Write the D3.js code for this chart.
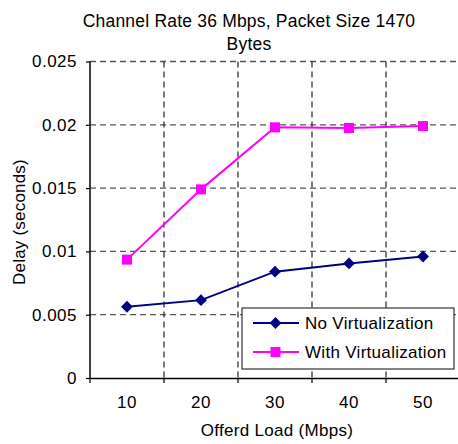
<!doctype html>
<html>
<head>
<script src="https://d3js.org/d3.v7.min.js"></script>
<style>
  body { margin: 0; background: #fff; }
  text { font-family: "Liberation Sans", Arial, sans-serif; fill: #000; }
</style>
</head>
<body>
<div id="chart"></div>
<script>
// data
var loads = ["10", "20", "30", "40", "50"];
var noVirt = [0.00563, 0.00615, 0.0084, 0.00905, 0.0096];
var withVirt = [0.00935, 0.0149, 0.0198, 0.01975, 0.0199];
var yTicks = [0, 0.005, 0.01, 0.015, 0.02, 0.025];
var yTickLabels = ["0", "0.005", "0.01", "0.015", "0.02", "0.025"];

var W = 458, H = 444;
var margin = {top: 61.5, right: -2, bottom: 66, left: 90};
var width = W - margin.left - margin.right,
    height = H - margin.top - margin.bottom;

var svg = d3.select("#chart").append("svg")
    .attr("width", W).attr("height", H);

var g = svg.append("g")
    .attr("transform", "translate(" + margin.left + "," + margin.top + ")");

var x = d3.scaleBand().domain(loads).range([0, width]);
var y = d3.scaleLinear().domain([0, 0.025]).range([height, 0]);

// horizontal gridlines
g.selectAll(".hgrid").data(yTicks.slice(1)).enter().append("line")
    .attr("x1", 0).attr("x2", width)
    .attr("y1", function(d) { return y(d); }).attr("y2", function(d) { return y(d); })
    .attr("stroke", "#555").attr("stroke-width", 1.3)
    .attr("stroke-dasharray", "6,4");

// vertical gridlines at category boundaries
g.selectAll(".vgrid").data(loads.slice(1)).enter().append("line")
    .attr("x1", function(d) { return x(d); }).attr("x2", function(d) { return x(d); })
    .attr("y1", 0).attr("y2", height)
    .attr("stroke", "#222").attr("stroke-width", 1.2)
    .attr("stroke-dasharray", "6,4");

// y axis
var yAxis = g.append("g")
    .call(d3.axisLeft(y).tickValues(yTicks)
        .tickFormat(function(d, i) { return yTickLabels[i]; })
        .tickSize(4).tickPadding(9));
yAxis.select(".domain").attr("stroke", "#000").attr("stroke-width", 1.5).attr("d", "M0," + height + "V0");
yAxis.selectAll(".tick line").attr("stroke", "#000").attr("stroke-width", 1.2);
yAxis.selectAll("text").style("font-size", "17px").style("letter-spacing", "0.5px").attr("font-family", null);

// x axis
var xAxis = g.append("g").attr("transform", "translate(0," + height + ")")
    .call(d3.axisBottom(x).tickSize(0).tickPadding(18));
xAxis.select(".domain").attr("stroke", "#000").attr("stroke-width", 1.5);
xAxis.selectAll("text").style("font-size", "17px").style("letter-spacing", "0.5px").attr("font-family", null);
xAxis.selectAll(".bound").data(loads.concat(["end"])).enter().append("line")
    .attr("x1", function(d, i) { return i * x.step(); })
    .attr("x2", function(d, i) { return i * x.step(); })
    .attr("y1", 0).attr("y2", 5)
    .attr("stroke", "#000").attr("stroke-width", 1.2);

// series lines
var line = d3.line()
    .x(function(d, i) { return x(loads[i]) + x.bandwidth() / 2; })
    .y(function(d) { return y(d); });

g.append("path").datum(noVirt).attr("d", line)
    .attr("fill", "none").attr("stroke", "#000080").attr("stroke-width", 2);
g.append("path").datum(withVirt).attr("d", line)
    .attr("fill", "none").attr("stroke", "#ff00ff").attr("stroke-width", 2);

var diamond = d3.symbol().type(d3.symbolSquare).size(70);
g.selectAll(".pno").data(noVirt).enter().append("path")
    .attr("d", diamond)
    .attr("transform", function(d, i) {
        return "translate(" + (x(loads[i]) + x.bandwidth() / 2) + "," + y(d) + ") rotate(45)";
    })
    .attr("fill", "#000080");

g.selectAll(".pwith").data(withVirt).enter().append("rect")
    .attr("x", function(d, i) { return x(loads[i]) + x.bandwidth() / 2 - 5; })
    .attr("y", function(d) { return y(d) - 5; })
    .attr("width", 10).attr("height", 10)
    .attr("fill", "#ff00ff");

// title
svg.append("text").attr("x", 249).attr("y", 26.5).attr("text-anchor", "middle")
    .style("font-size", "17.5px").style("letter-spacing", "0.2px")
    .text("Channel Rate 36 Mbps, Packet Size 1470");
svg.append("text").attr("x", 249).attr("y", 50).attr("text-anchor", "middle")
    .style("font-size", "17.5px").style("letter-spacing", "0.2px").text("Bytes");

// axis titles
svg.append("text").attr("x", 277).attr("y", 436).attr("text-anchor", "middle")
    .style("font-size", "17px").style("letter-spacing", "0.3px").text("Offerd Load (Mbps)");
svg.append("text").attr("transform", "translate(25,222) rotate(-90)")
    .attr("text-anchor", "middle").style("font-size", "17px").style("letter-spacing", "0.2px")
    .text("Delay (seconds)");

// legend
var leg = svg.append("g").attr("transform", "translate(242,308)");
leg.append("rect").attr("width", 212).attr("height", 61)
    .attr("fill", "#fff").attr("stroke", "#333").attr("stroke-width", 1.2);
var legItems = [
    {name: "No Virtualization", color: "#000080", shape: "diamond"},
    {name: "With Virtualization", color: "#ff00ff", shape: "square"}
];
legItems.forEach(function(it, i) {
    var cy = 15 + i * 29;
    leg.append("line").attr("x1", 11).attr("x2", 57).attr("y1", cy).attr("y2", cy)
        .attr("stroke", it.color).attr("stroke-width", 2);
    if (it.shape == "diamond") {
        leg.append("path").attr("d", diamond)
            .attr("transform", "translate(33.5," + cy + ") rotate(45)")
            .attr("fill", it.color);
    } else {
        leg.append("rect").attr("x", 28.5).attr("y", cy - 5).attr("width", 10).attr("height", 10)
            .attr("fill", it.color);
    }
    leg.append("text").attr("x", 63).attr("y", cy + 6)
        .style("font-size", "17px").style("letter-spacing", "0.3px").text(it.name);
});
</script>
</body>
</html>
